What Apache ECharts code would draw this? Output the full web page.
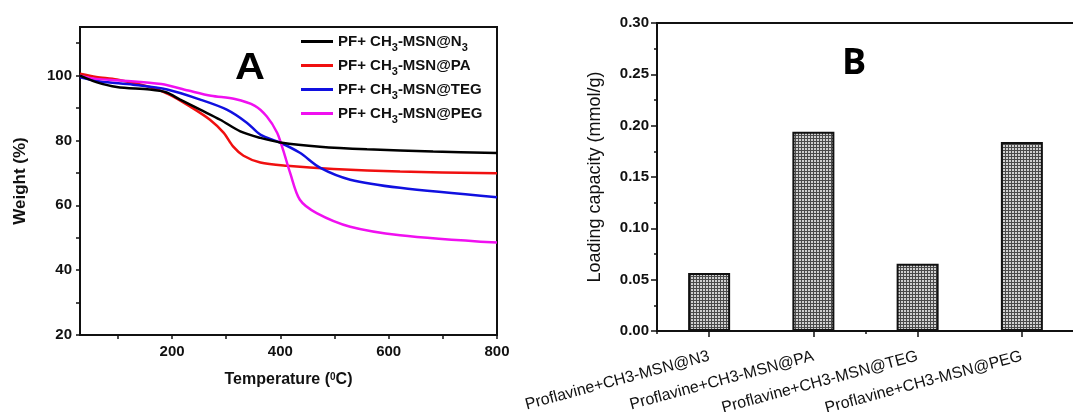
<!DOCTYPE html>
<html>
<head>
<meta charset="utf-8">
<script src="https://cdn.jsdelivr.net/npm/echarts@6/dist/echarts.min.js"></script>
<style>
  html, body { margin: 0; padding: 0; background: #fff; }
  #main { width: 1073px; height: 412px; }
</style>
</head>
<body>
<div id="main"></div>
<script>
// panel A: TGA curves, [temperature, weight %]
const seriesNames = ['PF+ CH3-MSN@N3', 'PF+ CH3-MSN@PA', 'PF+ CH3-MSN@TEG', 'PF+ CH3-MSN@PEG'];
const legendLabels = ['PF+ CH{s|3}-MSN@N{s|3}', 'PF+ CH{s|3}-MSN@PA', 'PF+ CH{s|3}-MSN@TEG', 'PF+ CH{s|3}-MSN@PEG'];
const seriesColors = ['#000000', '#f01010', '#1010e0', '#f010f0'];

const n3Data = [[30, 100], [60, 98], [98, 96.5], [159, 95.7], [190, 94.8], [215, 92.6], [252, 89.5], [289, 86.4],
  [326, 82.8], [363, 80.8], [400, 79.4], [473, 78.1], [560, 77.3], [682, 76.6], [800, 76.1]];
const paData = [[30, 100.6], [60, 99.6], [98, 98.8], [159, 96.5], [196, 94.1], [233, 90.5], [270, 86.4], [295, 82.4],
  [313, 78.1], [332, 75.3], [363, 73.2], [412, 72.2], [498, 71.2], [621, 70.4], [800, 69.9]];
const tegData = [[30, 99.5], [67, 98.2], [128, 97.2], [191, 95.7], [252, 92.6], [301, 89.5], [338, 85.5], [363, 81.8],
  [400, 79.3], [436, 76.2], [473, 71.6], [529, 67.9], [621, 65.4], [800, 62.5]];
const pegData = [[30, 100], [60, 99], [106, 98.5], [180, 97.4], [230, 95.4], [272, 93.8], [316, 92.8], [353, 90.7],
  [375, 87.4], [394, 82.4], [405, 77.1], [418, 70], [436, 61.7], [467, 57.6], [529, 53.4], [621, 50.8], [800, 48.5]];

const tempLabels = [200, 400, 600, 800];
const tempTicks = [100, 200, 300, 400, 500, 600, 700, 800];
const weightLabels = [20, 40, 60, 80, 100];
const weightTicks = [20, 30, 40, 50, 60, 70, 80, 90, 100, 110];

// panel B: loading capacity
const sampleNames = ['Proflavine+CH3-MSN@N3', 'Proflavine+CH3-MSN@PA', 'Proflavine+CH3-MSN@TEG', 'Proflavine+CH3-MSN@PEG'];
const loadingValues = [0.0565, 0.194, 0.0655, 0.184];

const FONT = 'Liberation Sans';

// hatch pattern for the bars
function makeHatch() {
  const c = document.createElement('canvas');
  c.width = 3;
  c.height = 3;
  const ctx = c.getContext('2d');
  ctx.fillStyle = '#cfcfcf';
  ctx.fillRect(0, 0, 3, 3);
  ctx.fillStyle = '#4a4a4a';
  ctx.fillRect(0, 0, 3, 1);
  ctx.fillRect(0, 0, 1, 3);
  return c;
}

const chart = echarts.init(document.getElementById('main'));

const lineSeries = [n3Data, paData, tegData, pegData].map((d, i) => ({
  name: seriesNames[i],
  type: 'line',
  xAxisIndex: 0,
  yAxisIndex: 0,
  data: d,
  showSymbol: false,
  smooth: 0.3,
  lineStyle: { color: seriesColors[i], width: 2.5 },
  itemStyle: { color: seriesColors[i] },
  z: 3 + (i === 0 ? 1 : 0),
}));

const tickLabel = { color: '#111', fontFamily: FONT, fontWeight: 'bold', fontSize: 15 };
const axisLine = { show: true, lineStyle: { color: '#111', width: 2 } };

chart.setOption({
  animation: false,
  grid: [
    { left: 80, top: 27, width: 417, height: 308, show: true, borderColor: '#111', borderWidth: 2, outerBoundsMode: 'none', containLabel: false },
    { left: 657, top: 23, width: 417, height: 308, show: true, borderColor: '#111', borderWidth: 2, outerBoundsMode: 'none', containLabel: false },
  ],
  legend: {
    orient: 'vertical',
    left: 296,
    top: 28,
    itemWidth: 32,
    itemHeight: 3,
    itemGap: 4,
    icon: 'rect',
    data: seriesNames,
    formatter: (name) => legendLabels[seriesNames.indexOf(name)],
    textStyle: {
      color: '#111', fontFamily: FONT, fontWeight: 'bold', fontSize: 15, lineHeight: 17,
      rich: { s: { fontSize: 11, fontWeight: 'bold', fontFamily: FONT, color: '#111', verticalAlign: 'bottom', lineHeight: 11, padding: [0, 0, -3, 0] } },
    },
  },
  xAxis: [
    {
      type: 'value', gridIndex: 0, min: 30, max: 800,
      axisLine,
      splitLine: { show: false },
      axisTick: { show: true, customValues: tempTicks, length: 4, lineStyle: { color: '#111', width: 1.5 } },
      axisLabel: { ...tickLabel, customValues: tempLabels, margin: 9 },
      name: 'Temperature ({sup|0}C)',
      nameLocation: 'middle',
      nameGap: 37,
      nameTextStyle: {
        color: '#111', fontFamily: FONT, fontWeight: 'bold', fontSize: 16,
        rich: { sup: { fontSize: 10, fontWeight: 'bold', fontFamily: FONT, color: '#111', verticalAlign: 'top', padding: [0, 0, 6, 0] } },
      },
    },
    {
      type: 'category', gridIndex: 1, position: 'bottom', data: sampleNames,
      axisLine,
      axisTick: { show: true, alignWithLabel: true, length: 6, lineStyle: { color: '#111', width: 1.5 } },
      axisLabel: { color: '#111', fontFamily: FONT, fontSize: 16, rotate: 15, interval: 0, margin: 25 },
    },
    {
      type: 'category', gridIndex: 1, position: 'bottom', data: sampleNames,
      axisLine: { show: false },
      axisTick: { show: true, length: 3, lineStyle: { color: '#111', width: 1.5 } },
      axisLabel: { show: false },
    },
  ],
  yAxis: [
    {
      type: 'value', gridIndex: 0, min: 20, max: 115,
      axisLine,
      splitLine: { show: false },
      axisTick: { show: true, customValues: weightTicks, length: 4, lineStyle: { color: '#111', width: 1.5 } },
      axisLabel: { ...tickLabel, customValues: weightLabels, margin: 8 },
      name: 'Weight (%)',
      nameLocation: 'middle',
      nameGap: 51,
      nameTextStyle: { color: '#111', fontFamily: FONT, fontWeight: 'bold', fontSize: 17 },
    },
    {
      type: 'value', gridIndex: 1, min: 0, max: 0.3, interval: 0.05,
      axisLine,
      splitLine: { show: false },
      axisTick: { show: true, length: 6, lineStyle: { color: '#111', width: 1.5 } },
      minorTick: { show: true, splitNumber: 2, length: 3, lineStyle: { color: '#111', width: 1.5 } },
      minorSplitLine: { show: false },
      axisLabel: { ...tickLabel, margin: 8, formatter: (v) => v.toFixed(2) },
      name: 'Loading capacity (mmol/g)',
      nameLocation: 'middle',
      nameGap: 53,
      nameTextStyle: { color: '#111', fontFamily: FONT, fontSize: 18 },
    },
  ],
  graphic: [
    { type: 'text', left: 235, top: 50, scaleX: 1.12, style: { text: 'A', font: 'bold 37px "Liberation Sans"', fill: '#000' } },
    { type: 'text', left: 842, top: 46, style: { text: 'B', font: 'bold 36px "Open Sans"', fill: '#000' } },
  ],
  series: [
    ...lineSeries,
    {
      name: 'loading',
      type: 'bar',
      xAxisIndex: 1,
      yAxisIndex: 1,
      data: loadingValues,
      barWidth: 42,
      itemStyle: {
        color: { image: makeHatch(), repeat: 'repeat' },
        borderColor: '#111',
        borderWidth: 2,
      },
    },
  ],
});
</script>
</body>
</html>
